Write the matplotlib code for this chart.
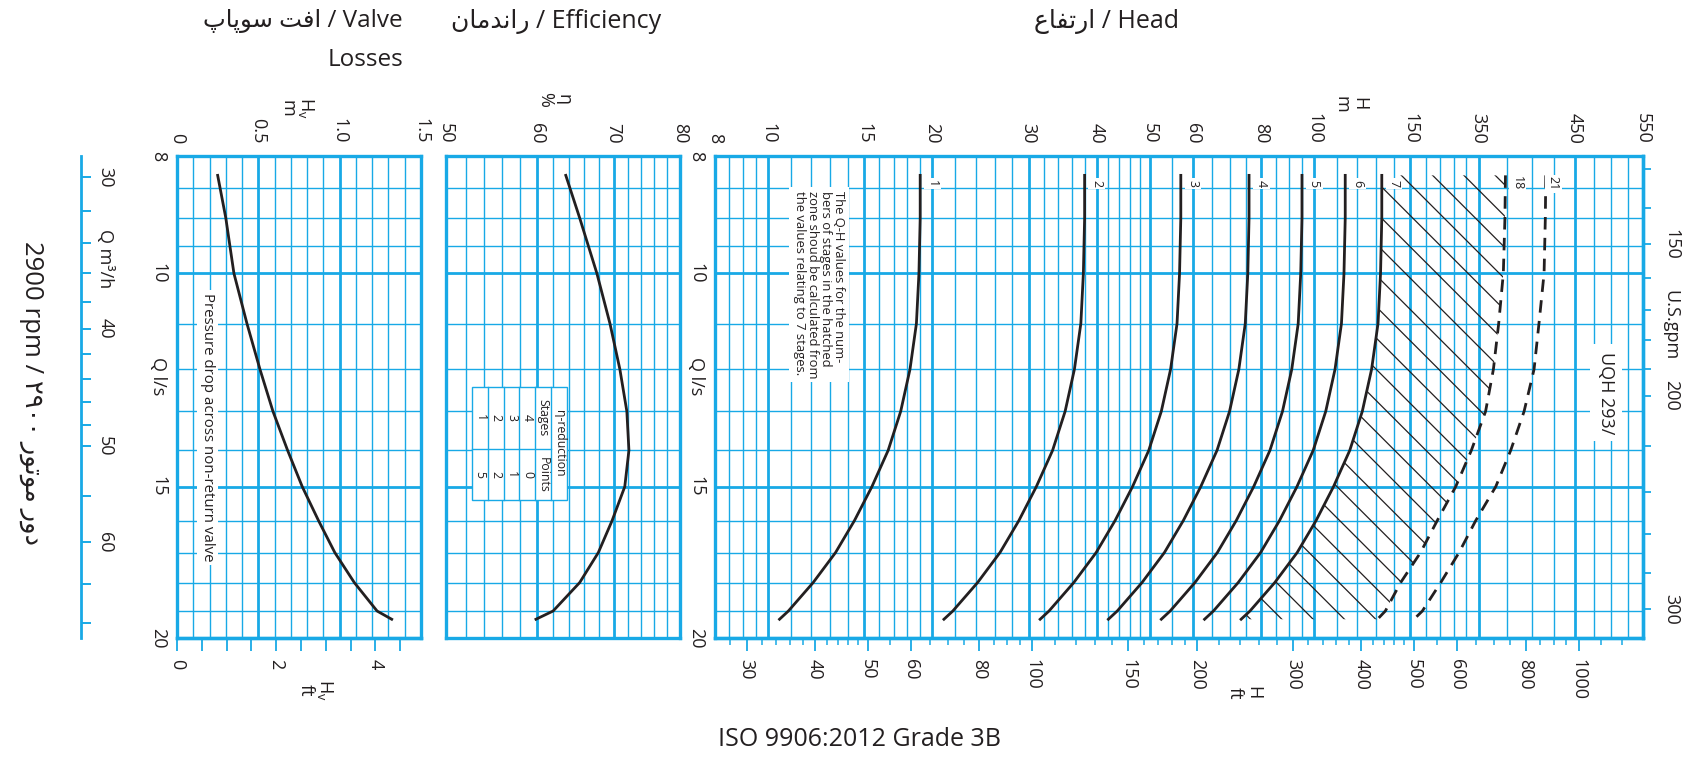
import numpy as np
import matplotlib
matplotlib.use('Agg')
import matplotlib.pyplot as plt
import matplotlib.transforms as mtransforms
from matplotlib.collections import LineCollection
from matplotlib.patches import Rectangle
from matplotlib.ticker import NullFormatter, NullLocator

W, H = 1686, 779
BLUE = '#18A9E6'
INK = '#231F20'

plt.rcParams['font.family'] = ['Open Sans', 'DejaVu Sans']

# --- values (Q in l/s, heads in m) ---
q_ls = [8.3, 9, 10, 11, 12, 13, 14, 15, 16, 17, 18, 19, 19.3]

head_1 = [19.0, 19.0, 18.9, 18.7, 18.2, 17.5, 16.6, 15.5, 14.4, 13.3, 12.1, 10.9, 10.5]
head_2 = [38.0, 38.0, 37.8, 37.4, 36.4, 35.0, 33.2, 31.0, 28.8, 26.6, 24.2, 21.8, 21.0]
head_3 = [57.0, 57.0, 56.7, 56.1, 54.6, 52.5, 49.8, 46.5, 43.2, 39.9, 36.3, 32.7, 31.5]
head_4 = [76.0, 76.0, 75.6, 74.8, 72.8, 70.0, 66.4, 62.0, 57.6, 53.2, 48.4, 43.6, 42.0]
head_5 = [95.0, 95.0, 94.5, 93.5, 91.0, 87.5, 83.0, 77.5, 72.0, 66.5, 60.5, 54.5, 52.5]
head_6 = [114.0, 114.0, 113.4, 112.2, 109.2, 105.0, 99.6, 93.0, 86.4, 79.8, 72.6, 65.4, 63.0]
head_7 = [133.0, 133.0, 132.3, 130.9, 127.4, 122.5, 116.2, 108.5, 100.8, 93.1, 84.7, 76.3, 73.5]
head_18 = [224.0, 223.5, 222.0, 217.7, 212.9, 206.0, 194.0, 181.6, 168.0, 156.6, 144.0, 135.0, 130.6]
head_21 = [265.5, 265.0, 263.6, 258.0, 252.7, 242.3, 229.0, 215.0, 197.6, 184.2, 170.5, 157.8, 152.3]

stage_names = ['1', '2', '3', '4', '5', '6', '7', '18', '21']
stage_label_h = [20, 40, 60, 80, 100, 120, 140, 236, 274]

eff = [63.6, 65.4, 67.7, 69.5, 70.9, 71.9, 72.2, 71.6, 69.8, 67.9, 65.4, 62.0, 59.9]
hv = [0.25, 0.30, 0.35, 0.43, 0.51, 0.59, 0.68, 0.77, 0.87, 0.97, 1.09, 1.23, 1.32]

eta_stages = [4, 3, 2, 1]
eta_points = [0, 1, 2, 5]

# --- axis ticks ---
q_major = [8, 10, 15, 20]
q_minor = [8.5, 9, 9.5, 11, 12, 13, 14, 16, 17, 18, 19]
m3h_ticks = [30, 32, 34, 36, 38, 40, 42, 44, 46, 48, 50, 55, 60, 65, 70]
m3h_labels = ['30', '', '', '', '', '40', '', '', '', '', '50', '', '60', '', '']
gpm_ticks = [130, 140, 150, 160, 170, 180, 190, 200, 220, 240, 260, 280, 300]
gpm_labels = ['', '', '150', '', '', '', '', '200', '', '', '', '', '300']

head_ticks = [8, 10, 15, 20, 30, 40, 50, 60, 80, 100, 150, 200, 300, 400]
head_tick_labels = ['8', '10', '15', '20', '30', '40', '50', '60', '80', '100',
                    '150', '350', '450', '550']
head_minor = [8.5, 9, 9.5, 11, 12, 13, 14, 16, 17, 18, 19, 22, 24, 26, 28,
              32, 34, 36, 38, 42, 44, 46, 48, 55, 65, 70, 75, 85, 90, 95,
              110, 120, 130, 140, 160, 170, 180, 190, 225, 250, 275,
              325, 350, 375]
ft_major = [30, 40, 50, 60, 80, 100, 150, 200, 300, 400, 500, 600, 800, 1000]
ft_minor = [28, 32, 34, 36, 38, 42, 44, 46, 48, 55, 65, 70, 75, 85, 90, 95,
            110, 120, 130, 140, 160, 170, 180, 190, 220, 240, 260, 280,
            320, 340, 360, 380, 420, 440, 460, 480, 550, 650, 700, 750,
            850, 900, 950, 1100, 1200]

eff_ticks = [50, 60, 70, 80]
eff_minor = [52, 54, 56, 58, 62, 64, 66, 68, 72, 74, 76, 78]
hv_ticks = [0, 0.5, 1.0, 1.5]
hv_minor = [0.1, 0.2, 0.3, 0.4, 0.6, 0.7, 0.8, 0.9, 1.1, 1.2, 1.3, 1.4]
hv_ft_ticks = [0, 0.5, 1, 1.5, 2, 2.5, 3, 3.5, 4, 4.5]
hv_ft_labels = ['0', '', '', '', '2', '', '', '', '4', '']

# Persian words, already in visual order with presentation forms
AR_HEAD = '\ufec9\ufe8e\ufed4\ufe97\ufead\ufe8d'
AR_EFF = '\ufee5\ufe8e\ufee3\ufeaa\ufee7\ufe8d\ufead'
AR_VALVE = '\ufb56\ufe8e\ufb58\ufeee\ufeb3 \ufe96\ufed3\ufe8d'
AR_RPM = '\u06f2\u06f9\u06f0\u06f0 \ufead\ufeee\ufe97\ufeee\ufee3 \ufead\ufeed\ufea9'

m_to_ft = (lambda m: np.asarray(m) / 0.3048, lambda f: np.asarray(f) * 0.3048)
ls_to_gpm = (lambda q: np.asarray(q) / 0.0630902, lambda g: np.asarray(g) * 0.0630902)
ls_to_m3h = (lambda q: np.asarray(q) * 3.6, lambda m: np.asarray(m) / 3.6)

fig = plt.figure(figsize=(W / 100, H / 100), dpi=100)


def add_panel(x0, x1, y0=156, y1=638):
    return fig.add_axes([x0 / W, 1 - y1 / H, (x1 - x0) / W, (y1 - y0) / H])


def ftext(x, y, s, **kw):
    kw.setdefault('color', INK)
    kw.setdefault('ha', 'center')
    kw.setdefault('va', 'center')
    return fig.text(x / W, 1 - y / H, s, **kw)


ax_v = add_panel(177, 421)
ax_e = add_panel(446, 680)
ax_h = add_panel(715, 1643)

ax_h.set_xscale('log')
ax_h.set_xlim(8, 400)
ax_h.set_xticks(head_ticks, labels=head_tick_labels)
ax_h.set_xticks(head_minor, minor=True)

ax_e.set_xscale('log')
ax_e.set_xlim(50, 80)
ax_e.set_xticks(eff_ticks, labels=[str(v) for v in eff_ticks])
ax_e.set_xticks(eff_minor, minor=True)

ax_v.set_xlim(0, 1.5)
ax_v.set_xticks(hv_ticks, labels=['0', '0.5', '1.0', '1.5'])
ax_v.set_xticks(hv_minor, minor=True)

for ax in (ax_v, ax_e, ax_h):
    ax.set_yscale('log')
    ax.set_ylim(20, 8)
    ax.set_yticks(q_major, labels=[str(v) for v in q_major])
    ax.set_yticks(q_minor, minor=True)
    ax.xaxis.set_minor_formatter(NullFormatter())
    ax.yaxis.set_minor_formatter(NullFormatter())
    ax.xaxis.tick_top()
    ax.tick_params(which='both', length=0, labelsize=13, labelcolor=INK,
                   labelrotation=-90)
    ax.tick_params(axis='y', pad=7)
    ax.tick_params(axis='x', pad=9)
    ax.grid(which='major', color=BLUE, lw=2.0)
    ax.grid(which='minor', color=BLUE, lw=1.0)
    for s in ax.spines.values():
        s.set_color(BLUE)
        s.set_linewidth(2.4)
    for lbl in ax.get_yticklabels():
        lbl.set_verticalalignment('center')
    blend = mtransforms.blended_transform_factory(ax.transAxes, ax.transData)
    if ax is not ax_e:
        ax.annotate('Q l/s', xy=(0, 12.15), xycoords=blend, xytext=(-7, 0),
                    textcoords='offset points', ha='right', va='center',
                    rotation=-90, fontsize=13, color=INK)

ax_e.tick_params(axis='y', labelleft=False)

# --- curves ---
curve_kw = dict(color=INK, lw=2.0, zorder=4)
ax_v.plot(hv, q_ls, **curve_kw)
ax_e.plot(eff, q_ls, **curve_kw)
for hs in (head_1, head_2, head_3, head_4, head_5, head_6, head_7):
    ax_h.plot(hs, q_ls, **curve_kw)
ax_h.plot(head_18, q_ls, ls=(0, (4.5, 3)), **curve_kw)
ax_h.plot(head_21, q_ls, ls=(0, (4.5, 3)), **curve_kw)

# hatched zone between 7 and 18 stages
zone = ax_h.fill_betweenx(q_ls, head_7, head_18, facecolor='none', edgecolor='none')
px_top = mtransforms.Affine2D().scale(1 / W, -1 / H).translate(0, 1) + fig.transFigure
segs = [[(c + 140, 140), (c + 660, 660)] for c in np.arange(1226 - 31.3 * 22, 1226 + 31.3 * 5, 31.3)]
hatch = LineCollection(segs, colors=INK, linewidths=0.9, transform=px_top, zorder=3)
hatch.set_clip_path(zone.get_paths()[0], ax_h.transData)
ax_h.add_collection(hatch, autolim=False)

box = dict(boxstyle='square,pad=0.15', fc='white', ec='none')
for name, hx in zip(stage_names, stage_label_h):
    ax_h.text(hx, 8.43, name, rotation=-90, ha='center', va='center',
              fontsize=9, color=INK, zorder=6, bbox=box)

note = ("The Q-H values for the num-\nbers of stages in the hatched\n"
        "zone shoud be calculated from\nthe values relating to 7 stages.")
ax_h.text(12.4, 8.55, note, rotation=-90, ha='center', va='top',
          multialignment='left', fontsize=9.4, linespacing=1.0, color=INK,
          zorder=6, bbox=dict(boxstyle='square,pad=0.3', fc='white', ec='none'))
ax_h.text(342, 12.55, 'UQH 293/', rotation=-90, ha='center', va='center',
          fontsize=13, color=INK, zorder=6,
          bbox=dict(boxstyle='square,pad=0.4', fc='white', ec='none'))
ax_v.text(0.19, 13.4, 'Pressure drop across non-return valve', rotation=-90,
          ha='center', va='center', fontsize=10.8, color=INK, zorder=6,
          bbox=dict(boxstyle='square,pad=0.2', fc='white', ec='none'))

# eta-reduction table
tx0, tx1, ty0, ty1 = 0.111, 0.517, 0.286, 0.521
band = (tx1 - tx0) / 6
ysplit = 0.392
tkw = dict(transform=ax_e.transAxes, color=BLUE, lw=1.0, zorder=7)
ax_e.add_patch(Rectangle((tx0, ty0), tx1 - tx0, ty1 - ty0, transform=ax_e.transAxes,
                         fc='white', ec=BLUE, lw=1.0, zorder=6))
for k in range(1, 6):
    ax_e.plot([tx1 - k * band] * 2, [ty0, ty1], **tkw)
ax_e.plot([tx0, tx1 - band], [ysplit, ysplit], **tkw)
cell = dict(transform=ax_e.transAxes, rotation=-90, ha='center', va='center',
            fontsize=8.8, color=INK, zorder=8)
ax_e.text(tx1 - 0.5 * band, (ty0 + ty1) / 2, '\u03b7-reduction', **cell)
ax_e.text(tx1 - 1.5 * band, (ysplit + ty1) / 2, 'Stages', **cell)
ax_e.text(tx1 - 1.5 * band, (ty0 + ysplit) / 2, 'Points', **cell)
for i, (s, p) in enumerate(zip(eta_stages, eta_points)):
    ax_e.text(tx1 - (2.5 + i) * band, (ysplit + ty1) / 2, str(s), **cell)
    ax_e.text(tx1 - (2.5 + i) * band, (ty0 + ysplit) / 2, str(p), **cell)

# --- secondary scales ---
sec_ft = ax_h.secondary_xaxis('bottom', functions=m_to_ft)
sec_ft.set_xticks(ft_major, labels=[str(v) for v in ft_major])
sec_ft.set_xticks(ft_minor, minor=True)
sec_ft.xaxis.set_minor_formatter(NullFormatter())

sec_vft = ax_v.secondary_xaxis('bottom', functions=m_to_ft)
sec_vft.set_xticks(hv_ft_ticks, labels=hv_ft_labels)
sec_vft.xaxis.set_minor_locator(NullLocator())

for sec in (sec_ft, sec_vft):
    sec.tick_params(which='major', length=9, width=1.3, color=BLUE, labelsize=13,
                    labelcolor=INK, labelrotation=-90, pad=6)
    sec.tick_params(which='minor', length=5, width=1.1, color=BLUE)
    sec.spines['bottom'].set_color(BLUE)
    sec.spines['bottom'].set_linewidth(2.4)

sec_gpm = ax_h.secondary_yaxis('right', functions=ls_to_gpm)
sec_gpm.set_yticks(gpm_ticks, labels=gpm_labels)
sec_gpm.yaxis.set_minor_locator(NullLocator())
sec_gpm.tick_params(length=6, width=1.3, color=BLUE, labelsize=13, labelcolor=INK,
                    labelrotation=-90, pad=8)
sec_gpm.spines['right'].set_color(BLUE)
sec_gpm.spines['right'].set_linewidth(2.4)
for lbl in sec_gpm.get_yticklabels():
    lbl.set_verticalalignment('center')
blend_h = mtransforms.blended_transform_factory(ax_h.transAxes, ax_h.transData)
ax_h.annotate('U.S.gpm', xy=(1, ls_to_gpm[1](175)), xycoords=blend_h, xytext=(13, 0),
              textcoords='offset points', ha='left', va='center', rotation=-90,
              fontsize=13, color=INK)

m_loc = (81 - 177) / 244
sec_m = ax_v.secondary_yaxis(m_loc, functions=ls_to_m3h)
sec_m.set_alignment('right')
sec_m.set_yticks(m3h_ticks, labels=m3h_labels)
sec_m.yaxis.set_minor_locator(NullLocator())
sec_m.tick_params(length=7, width=1.4, color=BLUE, labelsize=13, labelcolor=INK,
                  labelrotation=-90, pad=4)
sec_m.spines['right'].set_color(BLUE)
sec_m.spines['right'].set_linewidth(2.0)
for lbl in sec_m.get_yticklabels():
    lbl.set_verticalalignment('center')
blend_v = mtransforms.blended_transform_factory(ax_v.transAxes, ax_v.transData)
ax_v.annotate('Q m\u00b3/h', xy=(m_loc, 35 / 3.6), xycoords=blend_v, xytext=(11, 0),
              textcoords='offset points', ha='left', va='center', rotation=-90,
              fontsize=13, color=INK)

# --- titles and axis names ---
ftext(1106, 21, AR_HEAD + ' / Head', fontsize=18)
ftext(556, 21, AR_EFF + ' / Efficiency', fontsize=18)
ftext(303, 21, AR_VALVE + ' / Valve', fontsize=17.5)
ftext(366, 60, 'Losses', fontsize=17.5)
ftext(860, 740, 'ISO 9906:2012 Grade 3B', fontsize=18)
ftext(31, 393, '2900 rpm / ' + AR_RPM, rotation=-90, fontsize=18.5)

ftext(1350, 104, 'H\nm', rotation=-90, fontsize=13, linespacing=1.0)
ftext(554, 99, '\u03b7\n%', rotation=-90, fontsize=13, linespacing=1.0)
ftext(297, 108, 'H$_\\mathregular{v}$\nm', rotation=-90, fontsize=13, linespacing=1.0)
ftext(1244, 693, 'H\nft', rotation=-90, fontsize=13, linespacing=1.0)
ftext(316, 690, 'H$_\\mathregular{v}$\nft', rotation=-90, fontsize=13, linespacing=1.0)

fig.savefig('out.png', dpi=100)
